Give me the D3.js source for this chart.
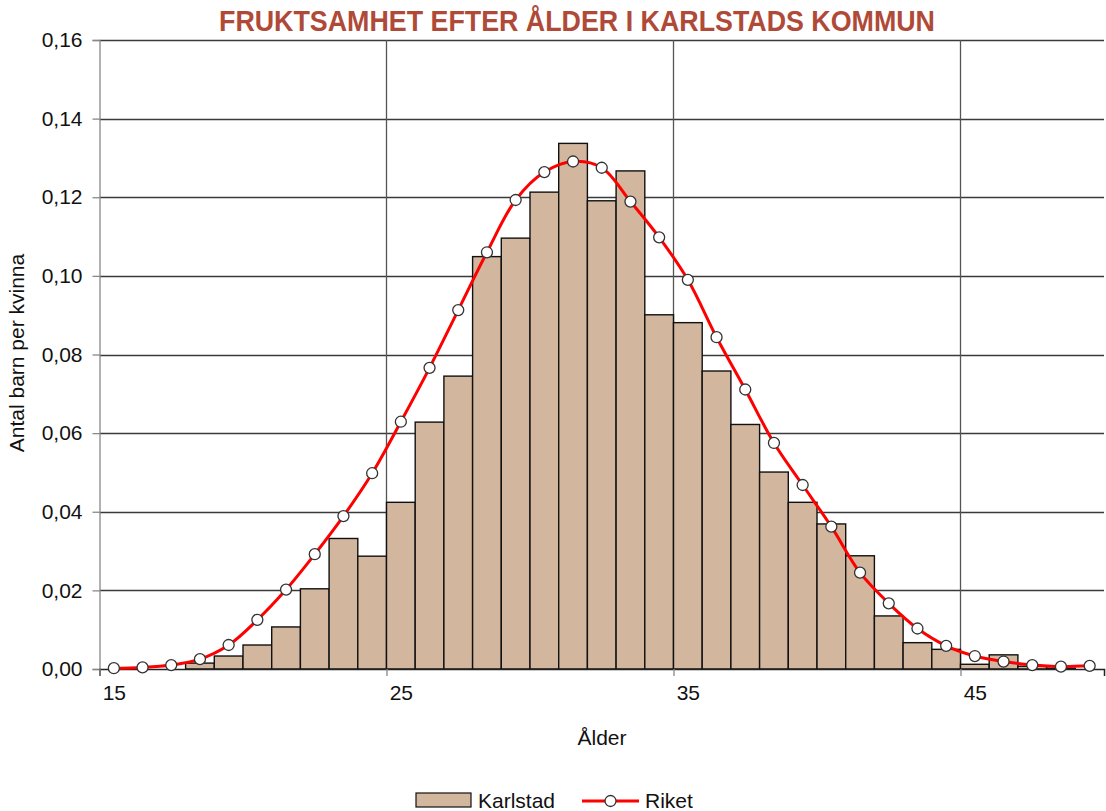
<!DOCTYPE html>
<html>
<head>
<meta charset="utf-8">
<script src="https://cdn.jsdelivr.net/npm/d3@7"></script>
<style>
html,body{margin:0;padding:0;background:#fff;}
svg{display:block;}
text{font-family:"Liberation Sans",Arial,sans-serif;}
</style>
</head>
<body>
<svg id="chart" width="1106" height="811"></svg>
<script>
const ages = d3.range(15, 50);
const karlstad = [0.0000,0.0000,0.0000,0.0015,0.0033,0.0061,0.0107,0.0204,0.0332,0.0287,
                  0.0424,0.0628,0.0745,0.1049,0.1096,0.1213,0.1337,0.1191,0.1267,0.0901,
                  0.0881,0.0758,0.0622,0.0501,0.0424,0.0369,0.0288,0.0135,0.0067,0.0050,
                  0.0012,0.0036,0.0007,0.0002,0.0000];
const riket =    [0.0002,0.0004,0.0010,0.0025,0.0061,0.0125,0.0202,0.0292,0.0389,0.0498,
                  0.0629,0.0766,0.0913,0.1060,0.1193,0.1264,0.1291,0.1275,0.1189,0.1098,
                  0.0990,0.0844,0.0711,0.0575,0.0468,0.0362,0.0245,0.0167,0.0103,0.0059,
                  0.0033,0.0019,0.0010,0.0006,0.0008];
const yTicks = [0,0.02,0.04,0.06,0.08,0.10,0.12,0.14,0.16];
const xLabelTicks = [15,25,35,45];
const xGridTicks = [14.5,24.5,34.5,44.5];
const title = "FRUKTSAMHET EFTER ÅLDER I KARLSTADS KOMMUN";
const yTitle = "Antal barn per kvinna";
const xTitle = "Ålder";
const seriesNames = ["Karlstad","Riket"];

const svg = d3.select("#chart");
const L = 99.5, R = 1104, T = 40, B = 669;
const x = d3.scaleLinear().domain([14.5, 49.5]).range([L, R]);
const y = d3.scaleLinear().domain([0, 0.16]).range([B, T]);
const fmt = v => d3.format(".2f")(v).replace(".", ",");

// horizontal gridlines
svg.append("g").selectAll("line").data(yTicks.slice(1)).join("line")
  .attr("x1", L).attr("x2", R)
  .attr("y1", d => Math.round(y(d)) + 0.5).attr("y2", d => Math.round(y(d)) + 0.5)
  .attr("stroke", "#3a3a3a").attr("stroke-width", 1.3);
// vertical gridlines
svg.append("g").selectAll("line").data(xGridTicks.slice(1)).join("line")
  .attr("x1", d => Math.round(x(d)) + 0.5).attr("x2", d => Math.round(x(d)) + 0.5)
  .attr("y1", T).attr("y2", B)
  .attr("stroke", "#555").attr("stroke-width", 1.3);

// bars
svg.append("g").selectAll("rect").data(ages.map((a, i) => ({a, v: karlstad[i]})).filter(d => d.v > 0)).join("rect")
  .attr("x", d => x(d.a - 0.5)).attr("width", d => x(d.a + 0.5) - x(d.a - 0.5))
  .attr("y", d => y(d.v)).attr("height", d => y(0) - y(d.v))
  .attr("fill", "#d3b69e").attr("stroke", "#111").attr("stroke-width", 1.4);

// y axis
const yAxis = svg.append("g").attr("transform", `translate(${L},0)`)
  .call(d3.axisLeft(y).tickValues(yTicks).tickSize(7).tickPadding(10).tickFormat(fmt));
yAxis.select(".domain").attr("stroke", "#888").attr("stroke-width", 1.3);
yAxis.selectAll(".tick line").attr("stroke", "#888").attr("stroke-width", 1.3);
yAxis.selectAll(".tick text").attr("font-size", 21).attr("fill", "#111")
  .attr("font-family", '"Liberation Sans",Arial,sans-serif');

// x axis ticks (boundaries)
const xAxis = svg.append("g").attr("transform", `translate(0,${B})`)
  .call(d3.axisBottom(x).tickValues(xGridTicks).tickSize(7).tickFormat(""));
xAxis.select(".domain").attr("stroke", "#222").attr("stroke-width", 1.5);
xAxis.selectAll(".tick line").attr("stroke", "#888").attr("stroke-width", 1.3);
const xLab = svg.append("g").attr("transform", `translate(0,${B})`)
  .call(d3.axisBottom(x).tickValues(xLabelTicks).tickSize(0).tickPadding(16).tickFormat(d3.format("d")));
xLab.select(".domain").remove();
xLab.selectAll(".tick text").attr("font-size", 21).attr("fill", "#111")
  .attr("font-family", '"Liberation Sans",Arial,sans-serif');

// riket line
const line = d3.line().x((d, i) => x(ages[i])).y(d => y(d)).curve(d3.curveCatmullRom.alpha(0.5));
svg.append("path").datum(riket).attr("d", line)
  .attr("fill", "none").attr("stroke", "#ff0000").attr("stroke-width", 3);
svg.append("g").selectAll("circle").data(riket).join("circle")
  .attr("cx", (d, i) => x(ages[i])).attr("cy", d => y(d)).attr("r", 5.5)
  .attr("fill", "#fff").attr("stroke", "#333").attr("stroke-width", 1.3);

// title
svg.append("text").attr("x", 577).attr("y", 31).attr("text-anchor", "middle")
  .attr("font-family", '"Liberation Sans Narrow","Arial Narrow","Liberation Sans",sans-serif')
  .attr("font-weight", "bold").attr("font-size", 29).attr("fill", "#b04a38")
  .attr("textLength", 716).attr("lengthAdjust", "spacingAndGlyphs")
  .text(title);

// axis titles
svg.append("text").attr("transform", "translate(24,353) rotate(-90)").attr("text-anchor", "middle")
  .attr("font-size", 21).attr("fill", "#111").text(yTitle);
svg.append("text").attr("x", 602).attr("y", 745).attr("text-anchor", "middle")
  .attr("font-size", 21).attr("fill", "#111").text(xTitle);

// legend
const lg = svg.append("g");
lg.append("rect").attr("x", 416).attr("y", 793).attr("width", 55).attr("height", 14)
  .attr("fill", "#d3b69e").attr("stroke", "#111").attr("stroke-width", 1.2);
lg.append("text").attr("x", 478).attr("y", 808).attr("font-size", 21).attr("fill", "#111").text(seriesNames[0]);
lg.append("line").attr("x1", 582).attr("x2", 639).attr("y1", 801).attr("y2", 801)
  .attr("stroke", "#ff0000").attr("stroke-width", 3);
lg.append("circle").attr("cx", 610.5).attr("cy", 801).attr("r", 5.5)
  .attr("fill", "#fff").attr("stroke", "#333").attr("stroke-width", 1.3);
lg.append("text").attr("x", 645).attr("y", 808).attr("font-size", 21).attr("fill", "#111").text(seriesNames[1]);
</script>
</body>
</html>
